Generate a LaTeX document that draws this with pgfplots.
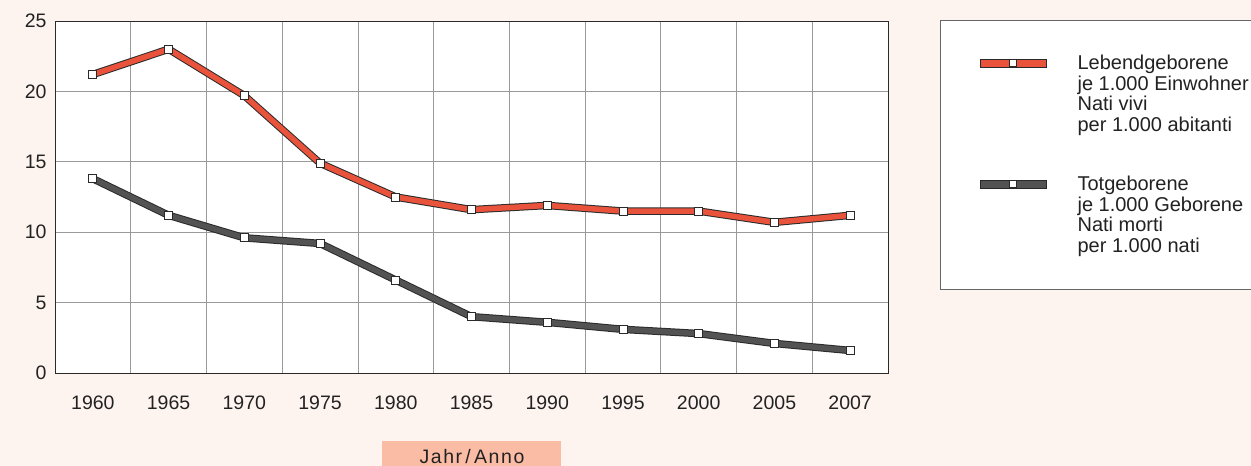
\documentclass[border=0pt]{standalone}
\usepackage{pgfplots}
\pgfplotsset{compat=1.18}
\usepackage{fontspec}
\setmainfont{Liberation Sans}
\definecolor{bg}{HTML}{FEF4EF}
\definecolor{redc}{HTML}{E9533B}
\definecolor{grayc}{HTML}{535353}
\definecolor{salmon}{HTML}{FBBCA6}
\definecolor{gridc}{HTML}{9A9A9A}
\definecolor{txt}{HTML}{222222}
\definecolor{edge}{HTML}{2A2A2A}

\pgfplotstableread{
x y
0 21.2
1 23.0
2 19.7
3 14.9
4 12.5
5 11.6
6 11.9
7 11.5
8 11.5
9 10.7
10 11.2
}\lebend
\pgfplotstableread{
x y
0 13.8
1 11.2
2 9.6
3 9.2
4 6.6
5 4.0
6 3.6
7 3.1
8 2.8
9 2.1
10 1.6
}\totgeb

\begin{document}
\begin{tikzpicture}[x=1pt,y=1pt]
\fill[bg] (0,0) rectangle (1251,466);
\path[use as bounding box] (0,0) rectangle (1251,466);
\draw[gray!80!black, fill=white, line width=0.8pt] (940,177) rectangle (1270,446);
\fill[salmon] (382,-20) rectangle (561,25);
\node[anchor=base, font=\fontsize{19.5}{20}\selectfont, text=txt, inner sep=0pt] at (472,2) {\addfontfeature{LetterSpace=8}Jahr\,/\,Anno};
\begin{axis}[at={(55pt,93pt)}, anchor=south west, width=833pt, height=352pt, scale only axis,
  xmin=-0.5, xmax=10.5, ymin=0, ymax=25,
  xtick={0,...,10},
  xticklabels={1960,1965,1970,1975,1980,1985,1990,1995,2000,2005,2007},
  minor xtick={0.5,1.5,...,9.5}, xminorgrids, 
  ytick={0,5,...,25}, ymajorgrids,
  major tick length=0pt, minor tick length=0pt,
  grid style={gridc, line width=0.8pt},
  minor grid style={gridc, line width=0.8pt},
  axis line style={edge, line width=0.9pt},
  axis background/.style={fill=white},
  tick label style={font=\fontsize{19.5}{20}\selectfont, text=txt},
  xticklabel style={yshift=-19pt},
  yticklabel style={xshift=-5pt},
  /pgf/number format/assume math mode=true,
  legend cell align=left,
  legend style={at={(1.1104,0.9034)}, anchor=north west, draw=none, fill=none,
     inner sep=0pt, row sep=105pt, column sep=31pt,
     nodes={inner sep=0pt, text=txt},
     font=\fontsize{20}{20}\selectfont},
]
\addplot[edge, line width=7.5pt, line join=miter, forget plot] table {\totgeb};
\addplot[grayc, line width=5.5pt, line join=miter, forget plot,
  mark=square*, mark size=4pt, mark options={solid, fill=white, draw=edge, line width=0.8pt}] table {\totgeb};
\addplot[edge, line width=7.5pt, line join=miter, forget plot] table {\lebend};
\addplot[redc, line width=5.5pt, line join=miter, forget plot,
  mark=square*, mark size=4pt, mark options={solid, fill=white, draw=edge, line width=0.8pt}] table {\lebend};
\addlegendimage{legend image code/.code={
  \fill[edge] (0pt,-3.75pt) rectangle (66pt,3.75pt);
  \fill[redc] (1pt,-2.75pt) rectangle (65pt,2.75pt);
  \filldraw[fill=white,draw=edge,line width=0.8pt] (29.5pt,-3.5pt) rectangle (36.5pt,3.5pt);}}
\addlegendentry{\begin{tabular}[t]{@{}l@{}}Lebendgeborene\\je 1.000 Einwohner\\Nati vivi\\per 1.000 abitanti\end{tabular}}
\addlegendimage{legend image code/.code={
  \fill[edge] (0pt,-3.75pt) rectangle (66pt,3.75pt);
  \fill[grayc] (1pt,-2.75pt) rectangle (65pt,2.75pt);
  \filldraw[fill=white,draw=edge,line width=0.8pt] (29.5pt,-3.5pt) rectangle (36.5pt,3.5pt);}}
\addlegendentry{\begin{tabular}[t]{@{}l@{}}Totgeborene\\je 1.000 Geborene\\Nati morti\\per 1.000 nati\end{tabular}}
\end{axis}
\end{tikzpicture}
\end{document}
